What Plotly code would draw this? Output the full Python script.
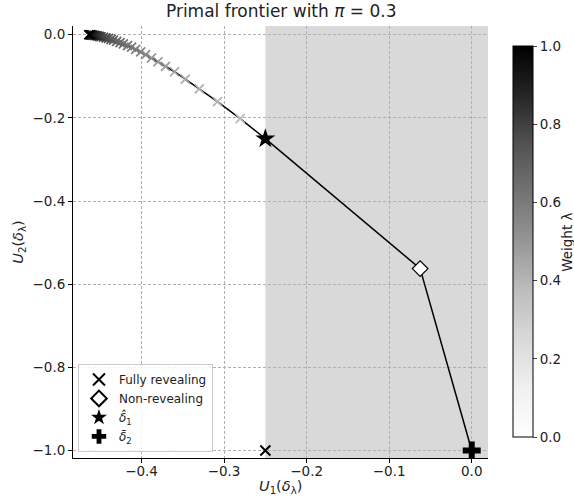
import plotly.graph_objects as go

# Frontier points, with weight lambda
u1_frontier = [-0.2805, -0.308, -0.330, -0.347, -0.360, -0.371, -0.380, -0.388, -0.395,
               -0.401, -0.407, -0.412, -0.417, -0.422, -0.426, -0.430, -0.434, -0.437,
               -0.440, -0.443, -0.446, -0.449, -0.451, -0.453, -0.455, -0.457, -0.459,
               -0.460, -0.461, -0.462, -0.463, -0.464]
u2_frontier = [-0.2017, -0.161, -0.130, -0.107, -0.089, -0.076, -0.065, -0.056, -0.048,
               -0.041, -0.035, -0.030, -0.026, -0.022, -0.019, -0.016, -0.013, -0.011,
               -0.009, -0.0075, -0.006, -0.0048, -0.0038, -0.003, -0.0022, -0.0016, -0.001,
               -0.0007, -0.0004, -0.0002, -0.0001, 0.0]
lam_frontier = [0.38, 0.40, 0.42, 0.44, 0.46, 0.48, 0.50, 0.52, 0.54, 0.56, 0.58, 0.60,
                0.62, 0.64, 0.66, 0.68, 0.70, 0.72, 0.74, 0.76, 0.78, 0.80, 0.82, 0.84,
                0.86, 0.88, 0.90, 0.92, 0.94, 0.96, 0.98, 1.00]

star_pt = (-0.25, -0.25)
nonrev_pt = (-0.0625, -0.5625)
plus_pt = (0.0, -1.0)
fully_pt = (-0.25, -1.0)
shade_start = -0.25

greys = [[0, '#ffffff'], [0.125, '#f0f0f0'], [0.25, '#d9d9d9'], [0.375, '#bdbdbd'],
         [0.5, '#969696'], [0.625, '#737373'], [0.75, '#525252'], [0.875, '#252525'],
         [1, '#000000']]

font = "DejaVu Sans, Arial, sans-serif"
txt = '#222'
fig = go.Figure()

# Frontier line
line_x = list(reversed(u1_frontier)) + [star_pt[0], nonrev_pt[0], plus_pt[0]]
line_y = list(reversed(u2_frontier)) + [star_pt[1], nonrev_pt[1], plus_pt[1]]
fig.add_trace(go.Scatter(x=line_x, y=line_y, mode='lines',
                         line=dict(color='black', width=1.5), showlegend=False,
                         hoverinfo='skip'))

# Weighted frontier markers
fig.add_trace(go.Scatter(
    x=u1_frontier, y=u2_frontier, mode='markers', showlegend=False,
    marker=dict(symbol='x-thin', size=9,
                line=dict(width=1.7, color=lam_frontier, colorscale=greys, cmin=0, cmax=1))))

# Colorbar carrier
fig.add_trace(go.Scatter(
    x=[None], y=[None], mode='markers', showlegend=False,
    marker=dict(color=[0], colorscale=greys, cmin=0, cmax=1, showscale=True,
                colorbar=dict(x=1.06, xanchor='left', y=0.501, yanchor='middle',
                              xpad=0, ypad=0,
                              len=0.905, lenmode='fraction', thickness=20,
                              outlinewidth=1, outlinecolor='black',
                              ticks='outside', ticklen=4, tickformat='.1f',
                              tickvals=[0, 0.2, 0.4, 0.6, 0.8, 1.0],
                              tickfont=dict(family=font, size=13.5, color=txt)))))

fig.add_trace(go.Scatter(x=[fully_pt[0]], y=[fully_pt[1]], mode='markers',
                         name='Fully revealing',
                         marker=dict(symbol='x-thin', size=10, color='black',
                                     line=dict(width=2, color='black'))))
fig.add_trace(go.Scatter(x=[nonrev_pt[0]], y=[nonrev_pt[1]], mode='markers',
                         name='Non-revealing',
                         marker=dict(symbol='diamond', size=12, color='white',
                                     line=dict(width=1.2, color='black'))))
fig.add_trace(go.Scatter(x=[star_pt[0]], y=[star_pt[1]], mode='markers',
                         name='<i>δ̂</i><sub>1</sub>',
                         marker=dict(symbol='star', size=15, color='black',
                                     line=dict(width=0))))
fig.add_trace(go.Scatter(x=[plus_pt[0]], y=[plus_pt[1]], mode='markers',
                         name='<i>δ̄</i><sub>2</sub>',
                         marker=dict(symbol='cross', size=15, color='black',
                                     line=dict(width=0))))

fig.add_shape(type='rect', xref='x', yref='paper', x0=shade_start, x1=0.0197,
              y0=0, y1=1, fillcolor='#d9d9d9', line=dict(width=0), layer='below')

fig.add_annotation(text='Weight λ', xref='paper', yref='paper', x=1.19, y=0.5,
                   xanchor='center', yanchor='middle', textangle=-90, showarrow=False,
                   font=dict(family=font, size=13.5, color=txt))
fig.add_annotation(text='<i>U</i><sub>1</sub>(<i>δ</i><sub>λ</sub>)',
                   xref='paper', yref='paper', x=0.5, y=-0.067, borderpad=0,
                   xanchor='center', yanchor='middle', showarrow=False,
                   font=dict(family=font, size=14.5, color=txt))

axis_common = dict(showgrid=True, gridcolor='#b0b0b0', griddash='3px,2px', gridwidth=1,
                   zeroline=False, showline=True, linecolor='black', linewidth=1,
                   ticks='outside', ticklen=4, tickcolor='black', mirror=False,
                   tickfont=dict(family=font, size=13.5, color=txt))

fig.update_xaxes(range=[-0.483, 0.0197], tickvals=[-0.4, -0.3, -0.2, -0.1, 0.0],
                 tickformat='.1f', ticklabelstandoff=-3,
                 **axis_common)
fig.update_yaxes(range=[-1.018, 0.021], tickvals=[-1.0, -0.8, -0.6, -0.4, -0.2, 0.0],
                 tickformat='.1f',
                 title=dict(text='<i>U</i><sub>2</sub>(<i>δ</i><sub>λ</sub>)',
                            font=dict(family=font, size=14.5, color=txt), standoff=5),
                 **axis_common)

fig.update_layout(
    width=574, height=501,
    margin=dict(l=73, r=86, t=26, b=43, autoexpand=False),
    paper_bgcolor='white', plot_bgcolor='white',
    title=dict(text='Primal frontier with <i>π</i> = 0.3', x=0.49, xanchor='center',
               y=0.977, yanchor='middle',
               font=dict(family=font, size=17, color=txt)),
    legend=dict(x=0.012, y=0.014, xanchor='left', yanchor='bottom',
                bgcolor='rgba(255,255,255,0.85)', bordercolor='#cccccc', borderwidth=1,
                font=dict(family=font, size=12, color=txt),
                itemsizing='constant', tracegroupgap=0),
    showlegend=True,
)

fig.write_html("out.html", config={'displayModeBar': False},
               post_script="document.body.style.margin='0px';")
